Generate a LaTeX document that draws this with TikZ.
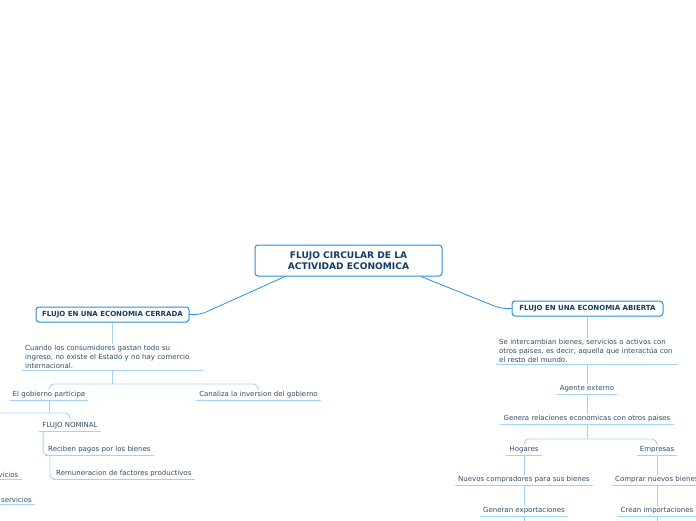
\documentclass[tikz,border=0pt]{standalone}
\usepackage{fontspec}
\setmainfont{DejaVu Sans}
\usepackage{xcolor}
\usetikzlibrary{calc,positioning}
\definecolor{marco}{HTML}{2B8FE0}
\definecolor{titulo}{HTML}{123E62}
\definecolor{texto}{HTML}{2F4C68}
\definecolor{linea}{HTML}{A3D3F3}
\tikzset{
  enlace/.style={thick,marco,line cap=round},
  rama/.style={linea,line width=0.9pt},
  caja/.style={draw=marco,line width=1pt,rounded corners=3pt,fill=white,align=center,
    text=titulo,font=\bfseries\fontsize{7}{8}\selectfont,inner sep=0pt},
  tema/.style={text=texto,font=\fontsize{7}{8.6}\selectfont,inner xsep=3pt,inner ysep=1.6pt},
  parrafo/.style={tema,align=left,text width=#1}
}
\begin{document}
\begin{tikzpicture}[x=1pt,y=-1pt]
\clip (0,0) rectangle (696,520);
% raiz y ramas principales
\node[caja,minimum width=187pt,minimum height=31pt,font=\bfseries\fontsize{9.1}{11}\selectfont] (centro) at (348.5,260.5) {FLUJO CIRCULAR DE LA\\ACTIVIDAD ECONOMICA};
\node[caja,minimum width=153pt,minimum height=15pt] (cerrada) at (112.5,314.5) {FLUJO EN UNA ECONOMIA CERRADA};
\node[caja,minimum width=151pt,minimum height=15pt] (abierta) at (587.5,308.5) {FLUJO EN UNA ECONOMIA ABIERTA};
\coordinate (c1) at (285,276.5); \coordinate (c2) at (421,276.5);
\draw[enlace,rounded corners=6pt] (c1) -- ($(cerrada.east)+(11,0)$) -- (cerrada.east);
\draw[enlace,rounded corners=6pt] (c2) -- ($(abierta.west)+(-11,0)$) -- (abierta.west);

% economia cerrada
\node[parrafo=175pt,anchor=south west] (cuando) at (22,370) {Cuando los consumidores gastan todo su\\ingreso, no existe el Estado y no hay comercio\\internacional.};
\node[tema,anchor=south] (gob) at (49,400) {El gobierno participa};
\node[tema,anchor=south] (canal) at (258.5,400) {Canaliza la inversion del gobierno};
\node[tema,anchor=south] (nominal) at (70,431) {FLUJO NOMINAL};
\node[tema,anchor=south west] (reciben) at (45,455) {Reciben pagos por los bienes};
\node[tema,anchor=south west] (remun) at (53,479) {Remuneracion de factores productivos};
\node[tema,anchor=south east] (vicios) at (21.5,479) {vicios};
\node[tema,anchor=south east] (servicios) at (35,504) {servicios};
\coordinate (bif1) at (112.5,384);
\coordinate (bif2) at (49,413);
\coordinate (fuera) at (-30,420);
\draw[rama] (cerrada.south) -- (cuando.north -| cerrada.south);
\draw[rama] (cuando.south -| bif1) -- (bif1);
\draw[rama,rounded corners=5pt] (gob.north) |- (bif1) -| (canal.north);
\draw[rama] (gob.south) -- (bif2);
\draw[rama,rounded corners=5pt] (fuera) |- (bif2) -| (nominal.north);
\draw[rama,rounded corners=4pt] ($(nominal.south west)+(4,0)$) |- (reciben.south west);
\draw[rama,rounded corners=4pt] ($(reciben.south west)+(5,0)$) |- (remun.south west);

% economia abierta
\node[parrafo=176pt,anchor=south west] (inter) at (496,364) {Se intercambian bienes, servicios o activos con\\otros países, es decir, aquella que interactúa con\\el resto del mundo.};
\node[tema,anchor=south] (agente) at (587,394) {Agente externo};
\node[tema,anchor=south] (genera) at (587,424) {Genera relaciones economicas con otros paises};
\node[tema,anchor=south] (hogares) at (524,455) {Hogares};
\node[tema,anchor=south] (empresas) at (657,455) {Empresas};
\node[tema,anchor=south] (nuevos) at (524,485) {Nuevos compradores para sus bienes};
\node[tema,anchor=south west] (comprar) at (612,485) {Comprar nuevos bienes};
\node[tema,anchor=south] (generan) at (524,516) {Generan exportaciones};
\node[tema,anchor=south] (crean) at (657,516) {Crean importaciones};
\coordinate (bif3) at (587,439);
\coordinate (abajo1) at (524,535); \coordinate (abajo2) at (657,535);
\draw[rama] (abierta.south) -- (inter.north -| abierta.south);
\draw[rama] (inter.south -| agente.south) -- (agente.north);
\draw[rama] (agente.south) -- (genera.north);
\draw[rama] (genera.south) -- (bif3);
\draw[rama,rounded corners=5pt] (hogares.north) |- (bif3) -| (empresas.north);
\draw[rama] (hogares.south) -- (nuevos.north);
\draw[rama] (empresas.south) -- (comprar.north -| empresas.south);
\draw[rama] (nuevos.south) -- (generan.north);
\draw[rama] (comprar.south -| crean.north) -- (crean.north);
\draw[rama] (generan.south) -- (abajo1);
\draw[rama] (crean.south) -- (abajo2);

% subrayados
\foreach \n in {cuando,gob,canal,nominal,reciben,remun,vicios,servicios,inter,agente,genera,hogares,empresas,nuevos,comprar,generan,crean}
  \draw[rama] (\n.south west) -- (\n.south east);
\end{tikzpicture}
\end{document}
